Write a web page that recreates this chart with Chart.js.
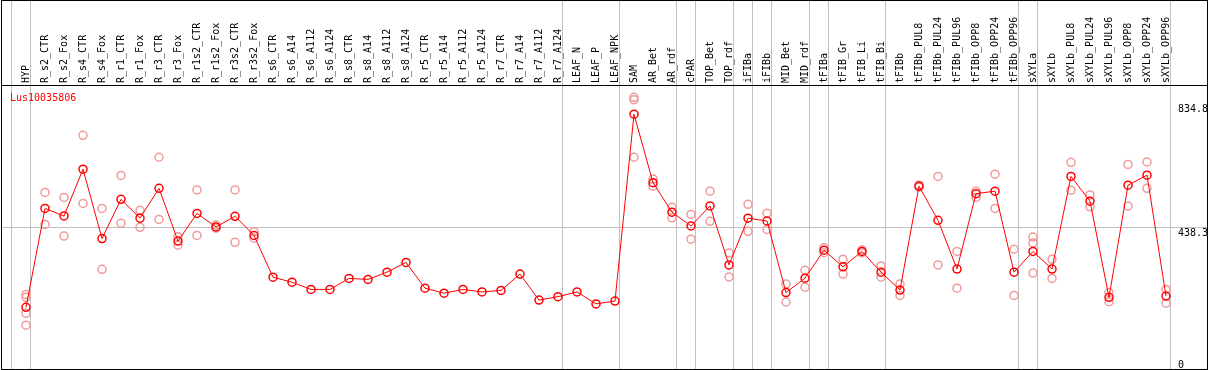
<!DOCTYPE html>
<html>
<head>
<meta charset="utf-8">
<script src="https://cdn.jsdelivr.net/npm/chart.js@4.4.1/dist/chart.umd.min.js"></script>
<style>
    html, body { margin: 0; padding: 0; background: #fff; overflow: hidden; }
    canvas { display: block; }
</style>
</head>
<body>
<canvas id="myChart" width="1209" height="370"></canvas>
<script>
// Datos del perfil de expresión
const geneName = 'Lus10035806';

const categories = [
    'HYP', 'R_s2_CTR', 'R_s2_Fox', 'R_s4_CTR', 'R_s4_Fox', 'R_r1_CTR', 'R_r1_Fox', 'R_r3_CTR', 'R_r3_Fox',
    'R_r1s2_CTR', 'R_r1s2_Fox', 'R_r3s2_CTR', 'R_r3s2_Fox', 'R_s6_CTR', 'R_s6_A14', 'R_s6_A112', 'R_s6_A124',
    'R_s8_CTR', 'R_s8_A14', 'R_s8_A112', 'R_s8_A124', 'R_r5_CTR', 'R_r5_A14', 'R_r5_A112', 'R_r5_A124',
    'R_r7_CTR', 'R_r7_A14', 'R_r7_A112', 'R_r7_A124', 'LEAF_N', 'LEAF_P', 'LEAF_NPK', 'SAM', 'AR_Bet', 'AR_rdf',
    'cPAR', 'TOP_Bet', 'TOP_rdf', 'iFIBa', 'iFIBb', 'MID_Bet', 'MID_rdf', 'tFIBa', 'tFIB_Gr', 'tFIB_Li', 'tFIB_Bi',
    'tFIBb', 'tFIBb_PUL8', 'tFIBb_PUL24', 'tFIBb_PUL96', 'tFIBb_OPP8', 'tFIBb_OPP24', 'tFIBb_OPP96',
    'sXYLa', 'sXYLb', 'sXYLb_PUL8', 'sXYLb_PUL24', 'sXYLb_PUL96', 'sXYLb_OPP8', 'sXYLb_OPP24', 'sXYLb_OPP96'
];

// media por condición
const meanValues = [
    184, 499, 475, 624, 403, 528, 468, 563, 395, 483, 440, 474, 413,
    280, 264, 241, 241, 276, 273, 296, 327, 245, 229, 241, 233, 238, 290, 207, 218,
    233, 195, 204,
    799, 581, 487, 443, 507, 319, 468, 459, 231, 277,
    366, 313, 362, 296, 239, 570, 461, 306, 546, 554, 296,
    362, 306, 601, 522, 216, 573, 605, 220
];

// réplicas (null = sin réplica visible)
const rep1 = [
    225, 550, 534, 732, 499, 604, 493, 662, 409, 558, 446, 558, 425,
    null, null, null, null, null, null, null, null, null, null, null, null, null, null, null, null,
    null, null, null,
    853, 593, 503, 480, 554, 357, 512, 484, 258, 302,
    374, 337, 367, 316, 258, 574, 601, 362, 554, 608, 369,
    408, 337, 646, 542, 231, 639, 647, 241
];
const rep2 = [
    216, 448, 411, 515, 305, 452, 439, 464, 382, 413, 436, 391, 404,
    null, null, null, null, null, null, null, null, null, null, null, null, null, null, null, null,
    null, null, null,
    845, 570, 469, 401, 458, 281, 426, 432, 201, 248,
    358, 290, 357, 280, 222, 567, 319, 245, 534, 499, 222,
    389, 276, 557, 504, 202, 506, 563, 197
];
const rep3 = [
    165, null, null, null, null, null, null, null, null, null, null, null, null,
    null, null, null, null, null, null, null, null, null, null, null, null, null, null, null, null,
    null, null, null,
    662, null, null, null, null, null, null, null, null, null,
    null, null, null, null, null, null, null, null, null, null, null,
    293, null, null, null, null, null, null, null
];
const rep4 = [
    127, null, null, null, null, null, null, null, null, null, null, null, null,
    null, null, null, null, null, null, null, null, null, null, null, null, null, null, null, null,
    null, null, null,
    null, null, null, null, null, null, null, null, null, null,
    null, null, null, null, null, null, null, null, null, null, null,
    null, null, null, null, null, null, null, null
];

const yTicks = [0, 438.3, 834.8];
// separadores de grupos: después de estos índices
const groupEnds = [-1, 0, 28, 31, 34, 35, 37, 38, 39, 41, 42, 45, 52, 53, 60];

const FONT = { family: 'DejaVu Sans Mono', size: 10 };

function toPoints(arr) {
    return arr.map((v, i) => ({ x: i, y: v }));
}

// Dibujar marco, separadores, título y etiquetas del eje
const framePlugin = {
    id: 'frame',
    beforeDraw(chart) {
        const ctx = chart.ctx;
        ctx.save();
        ctx.fillStyle = '#fff';
        ctx.fillRect(0, 0, chart.width, chart.height);
        ctx.restore();
    },
    beforeDatasetsDraw(chart) {
        const ctx = chart.ctx;
        const xs = chart.scales.x;
        ctx.save();
        ctx.strokeStyle = '#c0c0c0';
        ctx.lineWidth = 1;
        groupEnds.forEach(i => {
            const px = Math.round(xs.getPixelForValue(i + 0.23)) + 0.5;
            ctx.beginPath();
            ctx.moveTo(px, 0);
            ctx.lineTo(px, chart.chartArea.bottom);
            ctx.stroke();
        });
        ctx.restore();
    },
    afterDraw(chart) {
        const ctx = chart.ctx;
        const area = chart.chartArea;
        const ys = chart.scales.y;
        ctx.save();

        // título
        ctx.fillStyle = '#ff0000';
        ctx.font = `${FONT.size}px "${FONT.family}"`;
        ctx.textBaseline = 'top';
        ctx.textAlign = 'left';
        ctx.fillText(geneName, 10, area.top + 8);

        // etiquetas del eje y
        ctx.fillStyle = '#000';
        yTicks.forEach(v => {
            let py = ys.getPixelForValue(v) + 1;
            py = Math.min(py, area.bottom - 9);
            ctx.fillText(String(v), area.right - 29, py);
        });

        // marco
        ctx.strokeStyle = '#000';
        ctx.lineWidth = 1;
        ctx.strokeRect(1.5, 0.5, area.right - 1, area.bottom);
        ctx.beginPath();
        ctx.moveTo(1, area.top + 0.5);
        ctx.lineTo(area.right + 1, area.top + 0.5);
        ctx.stroke();
        ctx.restore();
    }
};

const repStyle = {
    showLine: false,
    borderColor: '#f09a9a',
    backgroundColor: 'rgba(0,0,0,0)',
    pointRadius: 4,
    pointBorderWidth: 1.5,
    pointBackgroundColor: 'rgba(0,0,0,0)'
};

const xMin = -24 / 19;
const xMax = xMin + 1205 / 19;

new Chart(document.getElementById('myChart'), {
    type: 'line',
    data: {
        datasets: [
            {
                label: geneName,
                data: toPoints(meanValues),
                borderColor: '#ff0000',
                borderWidth: 1,
                pointRadius: 4,
                pointBorderWidth: 1.5,
                pointBorderColor: '#ff0000',
                pointBackgroundColor: 'rgba(0,0,0,0)',
                tension: 0
            },
            Object.assign({ label: 'r1', data: toPoints(rep1) }, repStyle),
            Object.assign({ label: 'r2', data: toPoints(rep2) }, repStyle),
            Object.assign({ label: 'r3', data: toPoints(rep3) }, repStyle),
            Object.assign({ label: 'r4', data: toPoints(rep4) }, repStyle)
        ]
    },
    options: {
        responsive: false,
        animation: false,
        events: [],
        layout: {
            autoPadding: false,
            padding: { top: 0, right: 2, bottom: 1, left: 2 }
        },
        plugins: {
            legend: { display: false },
            tooltip: { enabled: false }
        },
        scales: {
            x: {
                type: 'linear',
                position: 'top',
                min: xMin,
                max: xMax,
                afterBuildTicks: s => { s.ticks = categories.map((_, i) => ({ value: i })); },
                afterFit: s => {
                    s.height = 85;
                    s.paddingLeft = 0;
                    s.paddingRight = 0;
                },
                grid: { display: false },
                border: { display: false },
                ticks: {
                    autoSkip: false,
                    minRotation: 90,
                    maxRotation: 90,
                    padding: -6,
                    labelOffset: 12.5,
                    color: '#000',
                    font: FONT,
                    callback: (value, index) => categories[index]
                }
            },
            y: {
                position: 'right',
                min: -12.4,
                max: 892.1,
                afterBuildTicks: s => { s.ticks = yTicks.map(v => ({ value: v })); },
                afterFit: s => {
                    s.width = 0;
                    s.paddingTop = 0;
                    s.paddingBottom = 0;
                },
                ticks: { display: false },
                grid: {
                    drawTicks: false,
                    lineWidth: 1,
                    color: c => (c.tick && c.tick.value === yTicks[1]) ? '#c0c0c0' : 'rgba(0,0,0,0)'
                },
                border: { display: false }
            }
        }
    },
    plugins: [framePlugin]
});
</script>
</body>
</html>
